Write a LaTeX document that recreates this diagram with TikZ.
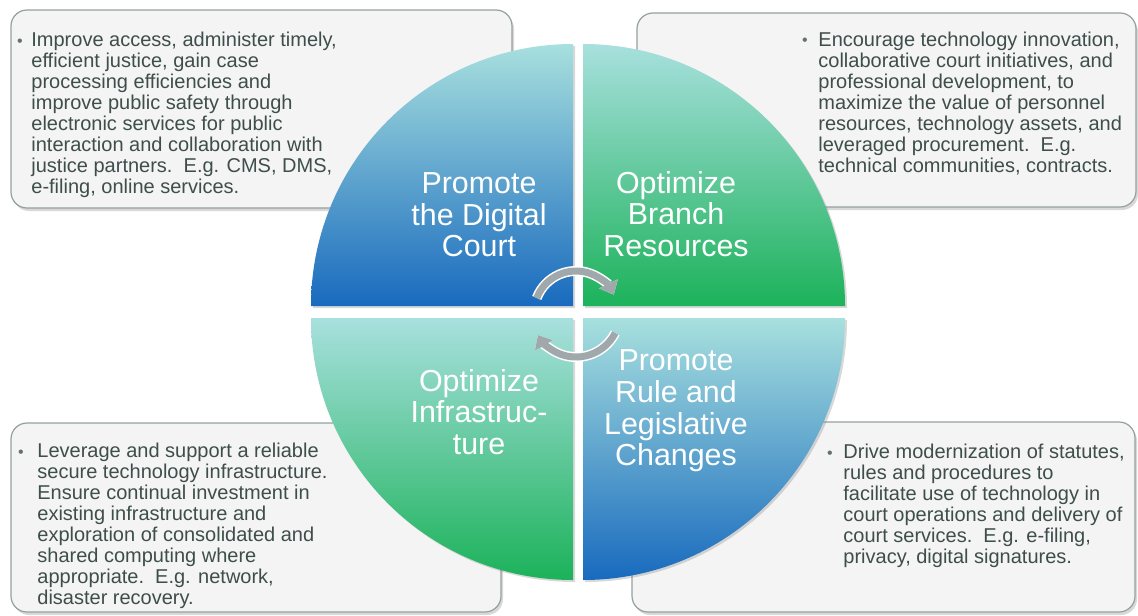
\documentclass[tikz,border=0pt]{standalone}
\usepackage{fontspec}
\setmainfont{Liberation Sans}
\usetikzlibrary{arrows.meta,shadows}

\definecolor{boxfill}{RGB}{244,244,244}
\definecolor{boxline}{RGB}{150,160,160}
\definecolor{inkgray}{RGB}{62,78,74}
\definecolor{aqua}{RGB}{168,224,222}
\definecolor{midblue}{RGB}{72,162,210}
\definecolor{deepblue}{RGB}{24,106,190}
\definecolor{midgreen}{RGB}{90,204,172}
\definecolor{deepgreen}{RGB}{28,178,90}
\definecolor{cyclegray}{RGB}{160,168,172}

\begin{document}
\begin{tikzpicture}[%
      x=0.5pt, y=-0.5pt,
      textbox/.style={fill=boxfill, draw=boxline, line width=0.6pt, rounded corners=8pt,
        drop shadow={shadow xshift=1pt, shadow yshift=-1.5pt, opacity=0.3}},
      bluequad/.style={top color=aqua, middle color=midblue, bottom color=deepblue,
        drop shadow={shadow xshift=1pt, shadow yshift=-1pt, opacity=0.3}},
      greenquad/.style={top color=aqua, middle color=midgreen, bottom color=deepgreen,
        drop shadow={shadow xshift=1pt, shadow yshift=-1pt, opacity=0.3}},
      quadlabel/.style={align=center, text=white, inner sep=0pt,
        font=\fontsize{15.2}{15.8}\selectfont},
      note/.style={anchor=north west, inner sep=0pt, align=left, text=inkgray,
        font=\fontsize{10}{10.5}\selectfont},
      dot/.style={anchor=base, inner sep=0pt, text=inkgray!80,
        font=\fontsize{8}{8}\selectfont},
      turn/.style={draw=cyclegray, line width=3.5pt, -{Triangle[length=6pt,width=10pt]},
        preaction={draw=white, line width=5pt}},
      ]
      \useasboundingbox (0,0) rectangle (1138,615);
      \fill[white] (0,0) rectangle (1138,615);

      % text boxes behind the circle
      \path[textbox] (11,10) rectangle (512,208);
      \path[textbox] (637,13) rectangle (1136,207);
      \path[textbox] (11,423) rectangle (501,612);
      \path[textbox] (632,422) rectangle (1135,612);

      \node[dot] (digitaldot) at (20,46.7) {\textbullet};
      \node[note] (digitaltext) at (31,32) {Improve access, administer timely,\\
        efficient justice, gain case\\
        processing efficiencies and\\
        improve public safety through\\
        electronic services for public\\
        interaction and collaboration with\\
        justice partners.\ \ E.g. CMS, DMS,\\
        e-filing, online services.};

      \node[dot] (branchdot) at (805,46) {\textbullet};
      \node[note] (branchtext) at (818,31.5) {Encourage technology innovation,\\
        collaborative court initiatives, and\\
        professional development, to\\
        maximize the value of personnel\\
        resources, technology assets, and\\
        leveraged procurement.\ \ E.g.\\
        technical communities, contracts.};

      \node[dot] (infradot) at (21,457) {\textbullet};
      \node[note] (infratext) at (37,442.5) {Leverage and support a reliable\\
        secure technology infrastructure.\\
        Ensure continual investment in\\
        existing infrastructure and\\
        exploration of consolidated and\\
        shared computing where\\
        appropriate.\ \ E.g. network,\\
        disaster recovery.};

      \node[dot] (rulesdot) at (830,458) {\textbullet};
      \node[note] (rulestext) at (843,443.5) {Drive modernization of statutes,\\
        rules and procedures to\\
        facilitate use of technology in\\
        court operations and delivery of\\
        court services.\ \ E.g. e-filing,\\
        privacy, digital signatures.};

      % four quadrants
      \path[bluequad] (573,306) -- (311,306) arc[start angle=180, end angle=270, radius=262] -- cycle;
      \path[greenquad] (583,306) -- (583,44) arc[start angle=270, end angle=360, radius=262] -- cycle;
      \path[bluequad] (583,318) -- (845,318) arc[start angle=0, end angle=90, radius=262] -- cycle;
      \path[greenquad] (573,318) -- (573,580) arc[start angle=90, end angle=180, radius=262] -- cycle;

      \node[quadlabel] (digital) at (479,215) {Promote\\the Digital\\Court};
      \node[quadlabel] (branch) at (676,214) {Optimize\\Branch\\Resources};
      \node[quadlabel] (infra) at (479,412) {Optimize\\Infrastruc-\\ture};
      \node[quadlabel] (rules) at (676,411) {Promote\\Rule and\\Legislative\\Changes};

      % cycle arrows
      \coordinate (hub) at (576,313);
      \draw[turn] (hub) ++(201:42) arc[start angle=201, end angle=334, radius=42];
      \draw[turn] (hub) ++(27:44) arc[start angle=27, end angle=150, radius=44];
\end{tikzpicture}
\end{document}
